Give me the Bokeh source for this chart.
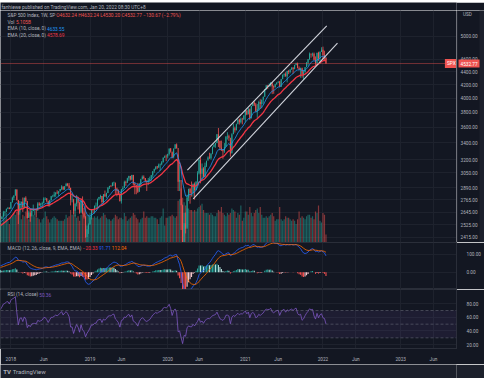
import math
import numpy as np
from bokeh.plotting import figure
from bokeh.layouts import column, row
from bokeh.models import (Range1d, LinearScale, FixedTicker, PrintfTickFormatter,
                          Label, Span, BoxAnnotation, ColumnDataSource)
from bokeh.core.properties import value
from bokeh.embed import file_html
from bokeh.resources import INLINE

# ---------------- data (weekly S&P 500, weeks ending Fri) ----------------
# warm-up weeks (Jun 2017 - Dec 2017), index -31 .. -1
close_2017 = [2439, 2432, 2433, 2438, 2423, 2425, 2459, 2472, 2472, 2476, 2441, 2426, 2443,
              2477, 2461, 2500, 2502, 2519, 2549, 2553, 2575, 2581, 2588, 2582, 2579, 2602,
              2642, 2652, 2675, 2683, 2674]
high_2017 = [2440, 2446, 2441, 2447, 2441, 2427, 2463, 2477, 2484, 2480, 2475, 2453, 2451,
             2480, 2475, 2500, 2508, 2520, 2552, 2556, 2576, 2582, 2597, 2592, 2587, 2605,
             2657, 2652, 2680, 2695, 2692]
low_2017 = [2412, 2423, 2419, 2426, 2415, 2407, 2422, 2456, 2459, 2464, 2437, 2417, 2418,
            2446, 2447, 2459, 2489, 2495, 2520, 2545, 2547, 2566, 2566, 2576, 2567, 2578,
            2605, 2605, 2644, 2673, 2673]
vol_2017 = [15, 14, 16, 14, 13, 14, 13, 13, 14, 14, 15, 16, 13, 13, 14, 16, 15, 14, 15, 14,
            15, 15, 16, 16, 15, 13, 18, 16, 19, 14, 12]

close_2018 = [2743, 2786, 2810, 2872, 2762, 2619, 2732, 2747, 2691, 2786, 2752, 2588, 2641,
              2604, 2656, 2670, 2670, 2663, 2728, 2713, 2721, 2735, 2779, 2780, 2755, 2718,
              2760, 2801, 2802, 2819, 2840, 2833, 2850, 2875, 2902, 2872, 2905, 2930, 2914,
              2886, 2767, 2768, 2658, 2723, 2781, 2736, 2633, 2760, 2633, 2600, 2417, 2486]
high_2018 = [2743, 2797, 2811, 2873, 2872, 2763, 2754, 2748, 2789, 2787, 2801, 2755, 2660,
             2673, 2680, 2718, 2677, 2683, 2742, 2742, 2735, 2747, 2791, 2790, 2784, 2747,
             2764, 2805, 2816, 2848, 2841, 2863, 2856, 2877, 2916, 2903, 2906, 2941, 2940,
             2940, 2891, 2817, 2776, 2736, 2815, 2775, 2747, 2764, 2800, 2685, 2607, 2520]
low_2018 = [2682, 2736, 2763, 2808, 2759, 2533, 2648, 2675, 2647, 2681, 2741, 2585, 2593,
            2554, 2611, 2653, 2612, 2594, 2657, 2701, 2694, 2698, 2730, 2763, 2743, 2699,
            2698, 2758, 2790, 2791, 2795, 2825, 2802, 2853, 2864, 2864, 2864, 2905, 2903,
            2874, 2710, 2740, 2628, 2603, 2700, 2670, 2631, 2649, 2621, 2584, 2409, 2347]
vol_2018 = [16, 17, 19, 18, 20, 27, 18, 15, 18, 17, 20, 19, 15, 18, 17, 18, 17, 16, 16, 15,
            13, 15, 16, 20, 17, 15, 13, 15, 16, 17, 16, 15, 14, 14, 14, 14, 15, 18, 16, 17,
            21, 18, 22, 18, 16, 17, 14, 18, 18, 20, 24, 18]

close_2019 = [2532, 2596, 2671, 2665, 2707, 2708, 2776, 2793, 2804, 2743, 2822, 2801, 2834,
              2893, 2907, 2905, 2940, 2946, 2881, 2860, 2826, 2752, 2873, 2887, 2950, 2942,
              2990, 3014, 2977, 3026, 2932, 2919, 2889, 2847, 2926, 2979, 3007, 2992, 2962,
              2952, 2970, 2986, 3023, 3067, 3093, 3120, 3110, 3141, 3146, 3169, 3221, 3240]
high_2019 = [2539, 2598, 2675, 2672, 2708, 2738, 2776, 2795, 2817, 2804, 2822, 2860, 2838,
             2894, 2910, 2918, 2948, 2954, 2937, 2891, 2871, 2836, 2876, 2905, 2964, 2964,
             2996, 3018, 3017, 3028, 3028, 2944, 2893, 2940, 2940, 2985, 3021, 3022, 2993,
             2970, 2993, 3008, 3027, 3067, 3097, 3121, 3127, 3154, 3155, 3183, 3226, 3248]
low_2019 = [2444, 2524, 2575, 2632, 2631, 2682, 2681, 2761, 2775, 2723, 2730, 2794, 2785,
            2833, 2876, 2897, 2909, 2909, 2825, 2801, 2822, 2750, 2728, 2859, 2887, 2910,
            2943, 2963, 2966, 2969, 2914, 2822, 2822, 2834, 2847, 2891, 2978, 2978, 2946,
            2856, 2917, 2952, 2963, 2997, 3050, 3083, 3091, 3106, 3070, 3134, 3166, 3221]
vol_2019 = [18, 19, 18, 16, 17, 16, 17, 15, 16, 17, 19, 18, 16, 15, 15, 14, 15, 16, 18, 17,
            15, 16, 16, 15, 19, 17, 14, 15, 16, 17, 19, 18, 16, 15, 13, 15, 16, 20, 16, 17,
            16, 16, 17, 17, 16, 16, 15, 12, 16, 17, 22, 11]

close_2020 = [3235, 3265, 3330, 3295, 3226, 3328, 3380, 3338, 2954, 2972, 2711, 2305, 2541,
              2489, 2790, 2875, 2837, 2831, 2930, 2864, 2955, 3044, 3194, 3041, 3098, 3009,
              3130, 3185, 3225, 3216, 3271, 3351, 3373, 3397, 3508, 3427, 3341, 3319, 3298,
              3348, 3477, 3483, 3465, 3270, 3509, 3585, 3558, 3638, 3699, 3663, 3709, 3703,
              3756]
high_2020 = [3258, 3268, 3330, 3337, 3285, 3333, 3385, 3393, 3260, 3137, 2882, 2718, 2637,
             2641, 2818, 2880, 2887, 2955, 2934, 2945, 2956, 3068, 3211, 3233, 3155, 3113,
             3165, 3186, 3238, 3280, 3272, 3352, 3387, 3400, 3509, 3588, 3425, 3428, 3321,
             3397, 3485, 3534, 3502, 3409, 3521, 3646, 3606, 3645, 3700, 3713, 3726, 3723,
             3760]
low_2020 = [3181, 3214, 3247, 3281, 3214, 3214, 3328, 3328, 2855, 2855, 2479, 2281, 2191,
            2448, 2500, 2753, 2727, 2798, 2798, 2767, 2865, 2909, 3032, 2936, 2965, 2999,
            3001, 3115, 3200, 3209, 3200, 3263, 3344, 3340, 3395, 3349, 3310, 3301, 3209,
            3279, 3354, 3441, 3424, 3234, 3279, 3511, 3529, 3558, 3644, 3633, 3648, 3636,
            3694]
vol_2020 = [16, 16, 17, 17, 18, 17, 16, 17, 27, 28, 28, 29, 26, 24, 22, 22, 21, 21, 20, 21,
            20, 22, 23, 24, 25, 21, 19, 19, 19, 18, 19, 18, 17, 17, 19, 21, 20, 23, 19, 18,
            17, 19, 18, 19, 22, 21, 20, 16, 19, 18, 24, 14, 16]

close_2021 = [3825, 3768, 3841, 3714, 3887, 3934, 3907, 3811, 3842, 3943, 3913, 3975, 4020,
              4129, 4185, 4180, 4181, 4233, 4174, 4156, 4204, 4230, 4247, 4166, 4281, 4352,
              4370, 4327, 4412, 4395, 4437, 4468, 4442, 4509, 4535, 4459, 4433, 4455, 4357,
              4391, 4471, 4545, 4605, 4697, 4683, 4698, 4595, 4538, 4712, 4620, 4726, 4766]
high_2021 = [3826, 3820, 3861, 3851, 3889, 3937, 3950, 3929, 3915, 3961, 3983, 3979, 4020,
             4129, 4192, 4195, 4219, 4238, 4208, 4188, 4213, 4234, 4249, 4256, 4287, 4355,
             4372, 4393, 4415, 4429, 4440, 4469, 4471, 4513, 4546, 4549, 4486, 4466, 4466,
             4429, 4476, 4559, 4608, 4718, 4701, 4715, 4717, 4652, 4713, 4731, 4740, 4809]
low_2021 = [3663, 3759, 3779, 3694, 3725, 3884, 3885, 3808, 3723, 3818, 3845, 3853, 3917,
            4019, 4118, 4132, 4164, 4168, 4057, 4062, 4162, 4199, 4223, 4165, 4165, 4286,
            4320, 4320, 4233, 4362, 4375, 4430, 4367, 4438, 4503, 4453, 4427, 4306, 4306,
            4279, 4387, 4476, 4496, 4595, 4630, 4650, 4585, 4495, 4504, 4576, 4532, 4736]
vol_2021 = [20, 20, 18, 23, 19, 17, 19, 21, 22, 19, 23, 18, 16, 16, 17, 16, 17, 18, 19, 17,
            14, 15, 15, 23, 15, 14, 15, 17, 16, 16, 15, 14, 15, 14, 12, 15, 20, 16, 17, 16,
            15, 17, 18, 18, 16, 17, 15, 20, 19, 24, 14, 13]

close_2022 = [4677, 4663.44, 4532.77]
high_2022 = [4819, 4749, 4632.24]
low_2022 = [4582, 4582, 4530.20]
vol_2022 = [19, 18, 5.105]

first_open = 2416.0      # close of the week before the first bar
last_open = 4632.24      # open of the current (partial) week

time_tick_idx = [0, 22, 53, 74, 105, 126, 157, 179, 209, 231, 261, 283]
time_tick_labels = ["2018", "Jun", "2019", "Jun", "2020", "Jun", "2021", "Jun",
                    "2022", "Jun", "2023", "Jun"]
price_ticks = [2415, 2525, 2645, 2765, 2890, 3050, 3200, 3400, 3600, 3800, 4000,
               4200, 4400, 4600, 5000]
macd_ticks = [0, 100]
rsi_ticks = [20, 40, 60, 80]

# drawn parallel channel (bar index, price)
channel_upper_idx = [118.2, 211.5]
channel_upper_price = [3080, 5195]
channel_lower_idx = [122.1, 218.7]
channel_lower_price = [2774, 4880]

# ---------------- assemble ----------------
closes = np.array(close_2017 + close_2018 + close_2019 + close_2020 + close_2021 + close_2022, float)
highs = np.array(high_2017 + high_2018 + high_2019 + high_2020 + high_2021 + high_2022, float)
lows = np.array(low_2017 + low_2018 + low_2019 + low_2020 + low_2021 + low_2022, float)
vols = np.array(vol_2017 + vol_2018 + vol_2019 + vol_2020 + vol_2021 + vol_2022, float)
n_warm = len(close_2017)
idx = np.arange(len(closes)) - n_warm
opens = np.concatenate([[first_open], closes[:-1]])
opens[-1] = last_open

UP = "#26a69a"
DOWN = "#ef5350"
up = closes >= opens
ccol = [UP if u else DOWN for u in up]


def ema(a, n):
    k = 2.0 / (n + 1)
    out = np.empty(len(a))
    out[0] = a[0]
    for i in range(1, len(a)):
        out[i] = a[i] * k + out[i - 1] * (1 - k)
    return out


def rsi(a, n=14):
    d = np.diff(a, prepend=a[0])
    g = np.clip(d, 0, None)
    l = np.clip(-d, 0, None)
    ag = np.empty(len(a))
    al = np.empty(len(a))
    ag[0] = g[1:n + 1].mean()
    al[0] = l[1:n + 1].mean()
    for i in range(1, len(a)):
        ag[i] = (ag[i - 1] * (n - 1) + g[i]) / n
        al[i] = (al[i - 1] * (n - 1) + l[i]) / n
    rs = ag / np.where(al == 0, 1e-9, al)
    return 100 - 100 / (1 + rs)


ema10 = ema(closes, 10)
ema20 = ema(closes, 20)
macd = ema(closes, 12) - ema(closes, 26)
signal = ema(macd, 9)
hist = macd - signal
hcol = []
for i in range(len(hist)):
    prev = hist[i - 1] if i > 0 else hist[i]
    if hist[i] >= 0:
        hcol.append("#26a69a" if hist[i] > prev else "#b2dfdb")
    else:
        hcol.append("#ffcdd2" if hist[i] > prev else "#ff5252")
rsi14 = rsi(closes, 14)

src = ColumnDataSource(dict(
    idx=idx, high=highs, low=lows,
    top=np.maximum(opens, closes), bottom=np.minimum(opens, closes),
    color=ccol, vol=vols, ema10=ema10, ema20=ema20,
    macd=macd, signal=signal, hist=hist, hcol=hcol, rsi=rsi14))

# ---------------- styling ----------------
BG = "#131722"
FOOT = "#1c202b"
GRID = "#1e222d"
SEP = "#2a2e39"
TXT = "#b2b5be"
FONT = "Roboto"
FS = "4.8px"
AFS = "4.7px"
FW = 456          # frame width
RB = 28           # right axis strip
XR = (-6.94, 298.4)
x_rng = Range1d(*XR)


def fx(px):
    return XR[0] + px / FW * (XR[1] - XR[0])


def style_common(f):
    f.background_fill_color = BG
    f.border_fill_color = BG
    f.outline_line_color = SEP
    f.ygrid.grid_line_color = GRID
    f.ygrid.grid_line_width = 1
    f.xgrid.ticker = FixedTicker(ticks=time_tick_idx)
    f.xgrid.grid_line_color = GRID
    f.xgrid.grid_line_width = 1


def base_fig(fh, y_rng, **kw):
    f = figure(frame_width=FW, frame_height=fh, x_range=x_rng, y_range=y_rng,
               y_axis_location="right", toolbar_location=None, output_backend="svg",
               min_border_left=0, min_border_right=RB, min_border_top=0,
               min_border_bottom=0, **kw)
    style_common(f)
    f.yaxis.axis_line_color = SEP
    f.yaxis.major_tick_line_color = None
    f.yaxis.minor_tick_line_color = None
    f.yaxis.major_label_text_font_size = AFS
    f.yaxis.major_label_text_font = FONT
    f.yaxis.major_label_text_color = TXT
    f.yaxis.major_label_standoff = 4
    f.yaxis.formatter = PrintfTickFormatter(format="%.2f")
    return f


def lbl(f, x, y, text, color=TXT, **kw):
    f.add_layout(Label(x=x, y=y, text=text, text_color=color, text_font=FONT,
                       text_font_size=FS, text_baseline="middle", **kw))


# header strip
hdr = figure(width=FW + RB, height=10, x_range=(0, FW + RB), y_range=(0, 10),
             x_axis_location=None, y_axis_location=None, toolbar_location=None,
             output_backend="svg", min_border=0)
hdr.background_fill_color = BG
hdr.border_fill_color = BG
hdr.outline_line_color = None
hdr.grid.visible = False
hdr.text(x=[1], y=[5], text=["fanhiewe published on TradingView.com, Jan 20, 2022 08:30 UTC+8"],
         text_font=value(FONT), text_font_size=FS, text_color=TXT, text_baseline="middle")

# price pane
PH = 232
PMIN, PMAX = 2369.0, 5494.0
p_yrng = Range1d(PMIN, PMAX)


def py(off_top):
    lo, hi = math.log(PMIN), math.log(PMAX)
    return math.exp(hi - off_top / PH * (hi - lo))


p = figure(frame_width=FW, frame_height=PH, x_range=x_rng, y_range=p_yrng,
           y_axis_type="log", x_axis_location=None, y_axis_location=None,
           toolbar_location=None, output_backend="svg", min_border=0,
           extra_y_ranges={"vol": Range1d(0, 150)}, extra_y_scales={"vol": LinearScale()})
style_common(p)
p.outline_line_color = None
p.ygrid.ticker = FixedTicker(ticks=price_ticks)

p.vbar(x="idx", width=0.8, top="vol", bottom=0, y_range_name="vol", source=src,
       fill_color="color", line_color=None, fill_alpha=0.5)
p.segment(x0="idx", y0="low", x1="idx", y1="high", source=src, line_color="color", line_width=0.8)
p.vbar(x="idx", width=0.65, top="top", bottom="bottom", source=src,
       fill_color="color", line_color=None)
p.line("idx", "ema20", source=src, line_color="#f23645", line_width=1.3)
p.line("idx", "ema10", source=src, line_color="#2196f3", line_width=0.8)
p.line(channel_upper_idx, channel_upper_price, line_color="#d1d4dc", line_width=1.1)
p.line(channel_lower_idx, channel_lower_price, line_color="#d1d4dc", line_width=1.1)
p.add_layout(Span(location=float(closes[-1]), dimension="width", line_color=DOWN,
                  line_alpha=0.55, line_width=0.8))

lbl(p, fx(7.1), py(4.5), "S&P 500 Index, 1W, SP")
lbl(p, fx(55.7), py(4.5), "O4632.24 H4632.24 L4530.20 C4532.77 \u2212130.67 (\u22122.79%)", DOWN)
lbl(p, fx(7.1), py(11.8), "Vol")
lbl(p, fx(15.5), py(11.8), "5.105B", DOWN)
lbl(p, fx(7.1), py(18.2), "EMA (10, close, 0)")
lbl(p, fx(46.5), py(18.2), "4633.55", "#2196f3")
lbl(p, fx(7.1), py(24.6), "EMA (20, close, 0)")
lbl(p, fx(46.5), py(24.6), "4578.69", "#f23645")
p.add_layout(Label(x=fx(444.4), y=float(closes[-1]), text="SPX", text_color="white",
                   text_font=FONT, text_font_size=FS, text_baseline="middle",
                   background_fill_color=DOWN, padding=2))

# price scale strip (right of the price pane)
pa = figure(frame_width=RB, frame_height=PH, x_range=Range1d(0, RB), y_range=p_yrng,
            y_axis_type="log", x_axis_location=None, y_axis_location=None,
            toolbar_location=None, output_backend="svg", min_border=0)
pa.background_fill_color = BG
pa.border_fill_color = BG
pa.outline_line_color = None
pa.grid.visible = False
pa.quad(left=[RB - 5], right=[RB], bottom=[PMIN], top=[PMAX], fill_color=FOOT, line_color=None)
pa.add_layout(Span(location=0.5, dimension="height", line_color=SEP, line_width=1))
pa.text(x=[4] * len(price_ticks), y=price_ticks, text=["%.2f" % t for t in price_ticks],
        text_font=value(FONT), text_font_size=AFS, text_color=TXT, text_baseline="middle")
pa.add_layout(Label(x=6.5, y=py(4.3), text="USD", text_color=TXT, text_font=FONT,
                    text_font_size=AFS, text_baseline="middle"))
pa.add_layout(Label(x=2, y=float(closes[-1]), text="%.2f" % closes[-1], text_color="white",
                    text_font=FONT, text_font_size=AFS, text_baseline="middle",
                    background_fill_color=DOWN, padding=2))

# MACD pane
MH = 47
MMIN, MMAX = -96.3, 166.8
m = base_fig(MH, Range1d(MMIN, MMAX), x_axis_location=None)
m.yaxis.ticker = FixedTicker(ticks=macd_ticks)
m.vbar(x="idx", width=0.7, top="hist", bottom=0, source=src, fill_color="hcol", line_color=None)
m.line("idx", "macd", source=src, line_color="#2962ff", line_width=0.8)
m.line("idx", "signal", source=src, line_color="#ff6d00", line_width=0.8)


def my(off_top):
    return MMAX - off_top / MH * (MMAX - MMIN)


lbl(m, fx(7.1), my(5.6), "MACD (12, 26, close, 9, EMA, EMA)")
lbl(m, fx(82.3), my(5.6), "\u221220.33", "#f23645")
lbl(m, fx(98.4), my(5.6), "91.71", "#2962ff")
lbl(m, fx(111.3), my(5.6), "112.04", "#ff6d00")

# RSI pane
RH = 59
RMIN, RMAX = 14.4, 100.7
r = base_fig(RH, Range1d(RMIN, RMAX), x_axis_location="below")
r.min_border_bottom = 10
r.yaxis.ticker = FixedTicker(ticks=rsi_ticks)
r.xaxis.ticker = FixedTicker(ticks=time_tick_idx)
r.xaxis.major_label_overrides = {t: s for t, s in zip(time_tick_idx, time_tick_labels)}
r.xaxis.axis_line_color = SEP
r.xaxis.major_tick_line_color = None
r.xaxis.minor_tick_line_color = None
r.xaxis.major_label_text_font_size = AFS
r.xaxis.major_label_text_font = FONT
r.xaxis.major_label_text_color = TXT
r.xaxis.major_label_standoff = 2
r.add_layout(BoxAnnotation(bottom=30, top=70, fill_color="#7e57c2", fill_alpha=0.1, line_color=None))
for lev in (70, 50, 30):
    r.add_layout(Span(location=lev, dimension="width", line_color="#787b86",
                      line_dash="3 2", line_width=0.6, line_alpha=0.8))
r.line("idx", "rsi", source=src, line_color="#7e57c2", line_width=0.8)


def ry(off_top):
    return RMAX - off_top / RH * (RMAX - RMIN)


lbl(r, fx(7.1), ry(5.4), "RSI (14, close)")
lbl(r, fx(38.7), ry(5.4), "50.36", "#7e57c2")

# footer strip
ftr = figure(width=FW + RB, height=14, x_range=(0, FW + RB), y_range=(0, 14),
             x_axis_location=None, y_axis_location=None, toolbar_location=None,
             output_backend="svg", min_border=0)
ftr.background_fill_color = FOOT
ftr.border_fill_color = FOOT
ftr.outline_line_color = None
ftr.grid.visible = False
ftr.text(x=[3], y=[7], text=["TV"], text_font=value(FONT), text_font_size="6px",
         text_font_style="bold", text_color=TXT, text_baseline="middle")
ftr.text(x=[13], y=[7], text=["TradingView"], text_font=value(FONT), text_font_size="6px",
         text_color=TXT, text_baseline="middle")

layout = column(hdr, row(p, pa, spacing=0), m, r, ftr, spacing=0)
open("out.html", "w").write(file_html(layout, INLINE))
